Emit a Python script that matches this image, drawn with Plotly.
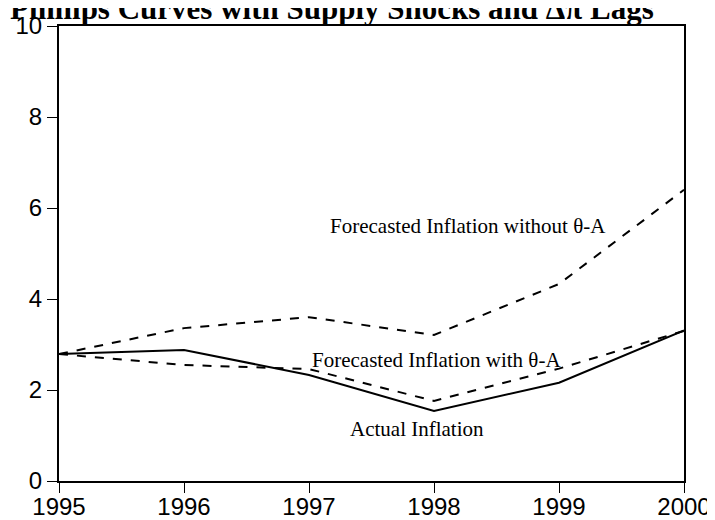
import plotly.graph_objects as go

years = [1995, 1996, 1997, 1998, 1999, 2000]
actual = [2.79, 2.88, 2.33, 1.54, 2.16, 3.31]
with_theta = [2.79, 2.55, 2.46, 1.76, 2.47, 3.30]
without_theta = [2.79, 3.36, 3.60, 3.21, 4.33, 6.40]

title_text = "Phillips Curves with Supply Shocks and Δπ Lags"
label_without = "Forecasted Inflation without θ-A"
label_with = "Forecasted Inflation with θ-A"
label_actual = "Actual Inflation"
y_ticks = [0, 2, 4, 6, 8, 10]

fig = go.Figure()
fig.add_trace(go.Scatter(x=years, y=actual, mode="lines",
                         line=dict(color="black", width=2, dash="solid"), showlegend=False))
fig.add_trace(go.Scatter(x=years, y=with_theta, mode="lines",
                         line=dict(color="black", width=2, dash="dash"), showlegend=False))
fig.add_trace(go.Scatter(x=years, y=without_theta, mode="lines",
                         line=dict(color="black", width=2, dash="dash"), showlegend=False))

serif = "Liberation Serif, Times New Roman, serif"
anns = [
    dict(x=1998.27, y=5.6, text=label_without),
    dict(x=1998.02, y=2.65, text=label_with),
    dict(x=1997.86, y=1.15, text=label_actual),
]
for a in anns:
    fig.add_annotation(x=a["x"], y=a["y"], text=a["text"], showarrow=False,
                       xref="x", yref="y", xanchor="center", yanchor="middle",
                       font=dict(family=serif, size=21, color="black"))

fig.add_annotation(x=0.436, y=1.0 - 2 / 455, xref="paper", yref="paper",
                   text="<b>" + title_text + "</b>", showarrow=False,
                   xanchor="center", yanchor="bottom",
                   font=dict(family=serif, size=31, color="black"))

axis_common = dict(showline=True, linecolor="black", linewidth=2, mirror=True,
                   ticks="outside", ticklen=10, tickwidth=1, tickcolor="black",
                   showgrid=False, zeroline=False, automargin=False,
                   tickfont=dict(family="Liberation Sans, Arial, sans-serif", size=24, color="black"))

fig.update_xaxes(range=[1995, 2000], tickvals=years, ticktext=[str(y) for y in years],
                 ticklabelstandoff=-7, **axis_common)
fig.update_yaxes(range=[0, 10], tickvals=y_ticks, **axis_common)

fig.update_layout(width=715, height=520, margin=dict(l=51, r=39, t=18, b=47, autoexpand=False),
                  plot_bgcolor="white", paper_bgcolor="white")

fig.write_html("out.html")
